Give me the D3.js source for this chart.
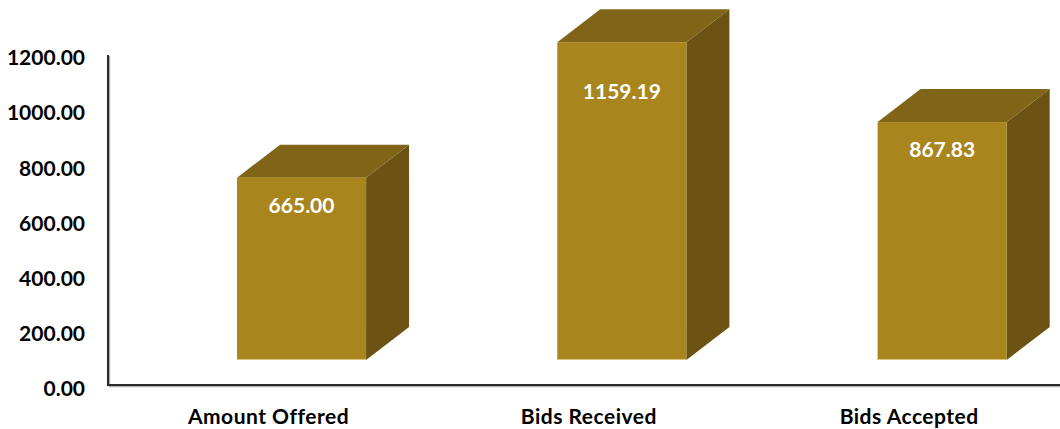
<!DOCTYPE html>
<html>
<head>
<meta charset="utf-8">
<script src="https://cdn.jsdelivr.net/npm/d3@7"></script>
<style>
  html, body { margin: 0; padding: 0; background: #ffffff; }
  svg { display: block; }
  text { font-family: Lato, "Liberation Sans", sans-serif; font-weight: 700; }
</style>
</head>
<body>
<svg id="chart" width="1060" height="429"></svg>
<script>
// Data
const categories = ["Amount Offered", "Bids Received", "Bids Accepted"];
const values = [665.00, 1159.19, 867.83];
const tickValues = [0, 200, 400, 600, 800, 1000, 1200];

const W = 1060, H = 429;
const svg = d3.select("#chart");

// Colours of the three visible faces of each block
const frontColor = "#A9851D";
const topColor = "#806417";
const sideColor = "#6C5313";

// 3-D depth offset of the blocks
const depthX = 43, depthY = -33;

// Axis scale (tick labels) and bar scale (front face, lifted off the floor)
const yAxis = d3.scaleLinear().domain([0, 1200]).range([389, 58]);
const yBar = d3.scaleLinear().domain([0, 1200]).range([360, 31]);

const x = d3.scaleBand()
  .domain(categories)
  .range([237, 1006.7])
  .paddingInner(0.597)
  .paddingOuter(0);

const bw = x.bandwidth();

// Axis lines with a soft shadow
const axisG = svg.append("g");
const axisLeftX = 108, axisBottomY = 385, axisTopY = 55;
axisG.append("path")
  .attr("d", `M${axisLeftX + 1.5},${axisTopY + 1} V${axisBottomY + 1.5} H${W}`)
  .attr("fill", "none")
  .attr("stroke", "#b0b0b0")
  .attr("stroke-width", 1.5);
axisG.append("path")
  .attr("d", `M${axisLeftX},${axisTopY} V${axisBottomY} H${W}`)
  .attr("fill", "none")
  .attr("stroke", "#2a2a2a")
  .attr("stroke-width", 2);

// Y tick labels
const yAxisG = svg.append("g")
  .attr("transform", `translate(${axisLeftX},0)`)
  .call(d3.axisLeft(yAxis)
    .tickValues(tickValues)
    .tickFormat(d3.format(".2f"))
    .tickSize(0)
    .tickPadding(23));
yAxisG.select(".domain").remove();
yAxisG.selectAll("text")
  .attr("font-size", 21)
  .attr("font-family", "Lato, 'Liberation Sans', sans-serif")
  .attr("font-weight", 700)
  .attr("fill", "#000");

// Blocks
const bars = svg.append("g").selectAll("g.bar")
  .data(categories.map((c, i) => ({ c, v: values[i] })))
  .join("g").attr("class", "bar");

bars.each(function(d) {
  const g = d3.select(this);
  const x0 = x(d.c), x1 = x0 + bw;
  const y0 = yBar(0), y1 = yBar(d.v);
  // right side
  g.append("path")
    .attr("d", `M${x1},${y1} L${x1 + depthX},${y1 + depthY} L${x1 + depthX},${y0 + depthY} L${x1},${y0} Z`)
    .attr("fill", sideColor);
  // top
  g.append("path")
    .attr("d", `M${x0},${y1} L${x0 + depthX},${y1 + depthY} L${x1 + depthX},${y1 + depthY} L${x1},${y1} Z`)
    .attr("fill", topColor);
  // front
  g.append("rect")
    .attr("x", x0).attr("y", y1)
    .attr("width", bw).attr("height", y0 - y1)
    .attr("fill", frontColor);
  // light lower edge of the front face
  g.append("line")
    .attr("x1", x0).attr("x2", x1)
    .attr("y1", y0 - 0.5).attr("y2", y0 - 0.5)
    .attr("stroke", "#d9c484").attr("stroke-width", 1);
  // value label inside the top of the front face, kept inside the plot
  g.append("text")
    .attr("x", x0 + bw / 2)
    .attr("y", Math.max(y1 + 28, 92))
    .attr("dy", "0.35em")
    .attr("text-anchor", "middle")
    .attr("font-size", 21)
    .attr("fill", "#ffffff")
    .text(d3.format(".2f")(d.v));
});

// Category labels
svg.append("g").selectAll("text")
  .data(categories)
  .join("text")
  .attr("x", d => x(d) + bw / 2 - 33)
  .attr("y", 424)
  .attr("text-anchor", "middle")
  .attr("font-size", 21)
  .attr("letter-spacing", 0.5)
  .attr("fill", "#000")
  .text(d => d);
</script>
</body>
</html>
